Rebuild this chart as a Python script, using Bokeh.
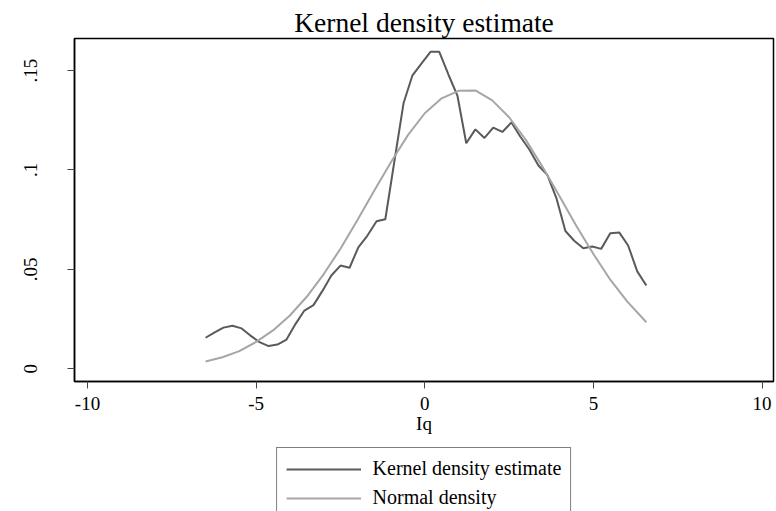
from bokeh.plotting import figure
from bokeh.layouts import column
from bokeh.models import Range1d, FixedTicker, Legend, LegendItem
from bokeh.embed import file_html
from bokeh.resources import INLINE

# ---- data ----
kde_x = [-6.50, -6.23, -5.97, -5.70, -5.43, -5.17, -4.90, -4.63, -4.37, -4.10,
         -3.83, -3.57, -3.30, -3.03, -2.77, -2.50, -2.23, -1.97, -1.70, -1.43,
         -1.17, -0.90, -0.63, -0.37, -0.10, 0.17, 0.43, 0.70, 0.97, 1.23,
         1.50, 1.77, 2.03, 2.30, 2.57, 2.83, 3.10, 3.37, 3.63, 3.90,
         4.17, 4.43, 4.70, 4.97, 5.23, 5.50, 5.77, 6.03, 6.30, 6.57]
kde_y = [0.0156, 0.0183, 0.0207, 0.0216, 0.0203, 0.0167, 0.0134, 0.0114, 0.0122, 0.0147,
         0.0226, 0.0293, 0.0320, 0.0393, 0.0469, 0.0519, 0.0508, 0.0611, 0.0670, 0.0742,
         0.0752, 0.1045, 0.1335, 0.1474, 0.1535, 0.1594, 0.1594, 0.1480, 0.1372, 0.1134,
         0.1204, 0.1161, 0.1213, 0.1191, 0.1239, 0.1168, 0.1103, 0.1022, 0.0976, 0.0860,
         0.0693, 0.0644, 0.0606, 0.0615, 0.0603, 0.0681, 0.0685, 0.0620, 0.0490, 0.0419]

norm_x = [-6.5, -6.0, -5.5, -5.0, -4.5, -4.0, -3.5, -3.0, -2.5, -2.0, -1.5, -1.0, -0.5,
          0.0, 0.5, 1.0, 1.5, 2.0, 2.5, 3.0, 3.5, 4.0, 4.5, 5.0, 5.5, 6.0, 6.57]
norm_y = [0.0037, 0.0058, 0.0089, 0.0135, 0.0193, 0.0268, 0.0362, 0.0475, 0.0604,
          0.0747, 0.0895, 0.1040, 0.1175, 0.1285, 0.1360, 0.1398, 0.1400, 0.1350,
          0.1265, 0.1150, 0.1013, 0.0866, 0.0717, 0.0577, 0.0448, 0.0339, 0.0234]

x_ticks = [-10, -5, 0, 5, 10]
x_tick_labels = ["-10", "-5", "0", "5", "10"]
y_ticks = [0, 0.05, 0.1, 0.15]
y_tick_labels = ["0", ".05", ".1", ".15"]

title_text = "Kernel density estimate"
x_label = "Iq"
series_names = ["Kernel density estimate", "Normal density"]
series_colors = ["#5a5a5a", "#a6a6a6"]

FONT = "Liberation Serif"
W = 776

p = figure(width=W, height=436, output_backend="svg", toolbar_location=None,
           x_range=Range1d(-10.386, 10.34), y_range=Range1d(-0.0064, 0.1661),
           min_border_left=74, min_border_right=3, min_border_top=38, min_border_bottom=0)

p.background_fill_color = "white"
p.border_fill_color = "white"
p.outline_line_color = "black"
p.outline_line_width = 1.5
p.xgrid.visible = False
p.ygrid.visible = False

p.title.text = title_text
p.title.align = "center"
p.title.text_font = FONT
p.title.text_font_size = "27.5px"
p.title.text_font_style = "normal"
p.title.text_color = "black"
p.title.standoff = 2

p.line(kde_x, kde_y, line_color=series_colors[0], line_width=2)
p.line(norm_x, norm_y, line_color=series_colors[1], line_width=2)

for ax in (p.xaxis[0], p.yaxis[0]):
    ax.axis_line_color = "black"
    ax.axis_line_width = 1.5
    ax.major_tick_line_color = "#444444"
    ax.major_tick_line_width = 1
    ax.major_tick_out = 7
    ax.major_tick_in = 0
    ax.minor_tick_out = 0
    ax.minor_tick_in = 0
    ax.major_label_text_font = FONT
    ax.major_label_text_font_size = "19px"
    ax.major_label_text_color = "black"
    ax.axis_label_text_font = FONT
    ax.axis_label_text_font_size = "19px"
    ax.axis_label_text_font_style = "normal"
    ax.axis_label_text_color = "black"

p.xaxis.ticker = FixedTicker(ticks=x_ticks)
p.xaxis.major_label_overrides = dict(zip(x_ticks, x_tick_labels))
p.xaxis.major_label_standoff = 8
p.xaxis.axis_label = x_label
p.xaxis.axis_label_standoff = 0

p.yaxis.ticker = FixedTicker(ticks=y_ticks)
p.yaxis.major_label_overrides = dict(zip(y_ticks, y_tick_labels))
p.yaxis.major_label_orientation = "vertical"
p.yaxis.major_label_standoff = 30

# legend strip below the plot (its lines lie outside its own ranges; only the legend shows)
lg = figure(width=W, height=75, output_backend="svg", toolbar_location=None,
            x_range=Range1d(100, 101), y_range=Range1d(100, 101),
            min_border_left=74, min_border_right=3, min_border_top=0, min_border_bottom=0)
lg.axis.visible = False
lg.grid.visible = False
lg.outline_line_color = None
lg.background_fill_color = "white"
lg.border_fill_color = "white"
d1 = lg.line(kde_x, kde_y, line_color=series_colors[0], line_width=2)
d2 = lg.line(norm_x, norm_y, line_color=series_colors[1], line_width=2)

legend = Legend(items=[LegendItem(label=series_names[0], renderers=[d1]),
                       LegendItem(label=series_names[1], renderers=[d2])],
                location="top", orientation="vertical")
legend.label_text_font = FONT
legend.label_text_font_size = "20px"
legend.label_text_color = "black"
legend.glyph_width = 75
legend.glyph_height = 22
legend.label_height = 22
legend.spacing = 6
legend.padding = 9
legend.label_standoff = 12
legend.border_line_color = "black"
legend.border_line_width = 1
legend.margin = 11
lg.add_layout(legend, "center")

layout = column(p, lg, spacing=0)
open("out.html", "w").write(file_html(layout, INLINE))
